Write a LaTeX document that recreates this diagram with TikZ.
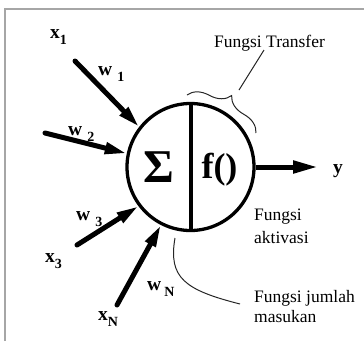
\documentclass[tikz,border=0pt]{standalone}
\usepackage{fontspec}
\setmainfont{Liberation Serif}
\usetikzlibrary{arrows.meta,decorations.pathreplacing}
\newcommand\lsub[1]{\raisebox{-6.5pt}{\fontsize{14}{14}\selectfont\bfseries #1}}
\begin{document}
\begin{tikzpicture}[x=1pt,y=-1pt,
  lbl/.style={anchor=base west,inner sep=0pt,font=\fontsize{19.5}{19.5}\selectfont\bfseries},
  txt/.style={anchor=base west,inner sep=0pt,font=\fontsize{17.5}{17.5}\selectfont},
  inarrow/.style={line width=5pt,line cap=round,-{Triangle[length=22pt,width=11pt]}},
  thin/.style={line width=1pt,black!85}]
\useasboundingbox (0,0) rectangle (364,341);
% frame
\coordinate (f1) at (5,341);
\coordinate (f2) at (5,9);
\coordinate (f3) at (364,9);
\draw[gray!70,line width=1.5pt] (f1) -- (f2) -- (f3);
% neuron
\node[circle,draw,line width=3.3pt,minimum size=127pt,inner sep=0pt] (c) at (190.5,167) {};
\draw[line width=4pt] (c.north) -- (c.south);
\node[anchor=base,inner sep=0pt,font=\fontsize{47}{47}\selectfont\bfseries] (sig) at (159,182) {Σ};
\node[anchor=base,inner sep=0pt,font=\fontsize{36}{36}\selectfont\bfseries] (fn) at (219.5,178.5) {f()};
% inputs
\coordinate (s1) at (75,61);
\coordinate (s2) at (45,133);
\coordinate (s3) at (77,245);
\coordinate (sN) at (117,305);
\draw[inarrow] (s1) -- (c.142);
\draw[inarrow] (s2) -- (c.168);
\draw[inarrow] (s3) -- (c.217);
\draw[inarrow] (sN) -- (c.243.4);
% output
\coordinate (out) at (318,167);
\draw[line width=5pt,-{Triangle[length=25pt,width=12pt]}] (c.east) -- (out);
\node[lbl] (y) at (333,173) {y};
% labels
\node[lbl] (x1) at (50,38) {x\lsub{1}};
\node[lbl] (w1) at (98,75) {w\hspace{5pt}\lsub{1}};
\node[lbl] (w2) at (68,135) {w\hspace{5pt}\lsub{2}};
\node[lbl] (w3) at (76,220) {w\hspace{5pt}\lsub{3}};
\node[lbl] (x3) at (45,262) {x\lsub{3}};
\node[lbl] (wN) at (147,290) {w\hspace{3pt}\lsub{N}};
\node[lbl] (xN) at (98,320) {x\lsub{N}};
% annotations
\node[txt] (ft) at (214,47) {Fungsi Transfer};
\coordinate (b1) at (187,95);
\coordinate (b2) at (256,133);
\draw[thin,decorate,decoration={brace,amplitude=21pt}] (b1) -- (b2);
\coordinate (l1) at (264,50);
\coordinate (l2) at (239,90);
\draw[thin] (l1) -- (l2);
\node[txt] (fa1) at (254,220) {Fungsi};
\node[txt] (fa2) at (254,243) {aktivasi};
\node[txt] (fj1) at (254,302) {Fungsi jumlah};
\node[txt] (fj2) at (254,322) {masukan};
\coordinate (j1) at (175,238);
\coordinate (j2) at (240,304);
\draw[thin] (j1) .. controls (168,278) and (185,290) .. (j2);
\end{tikzpicture}
\end{document}
